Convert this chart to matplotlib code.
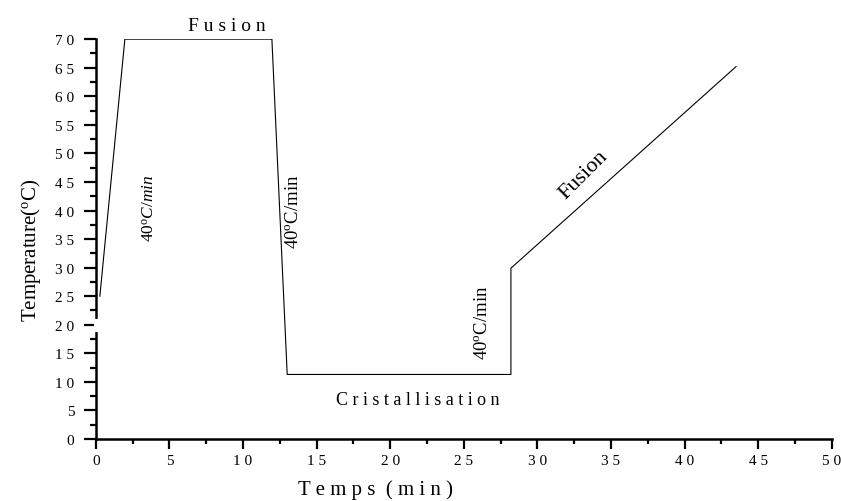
import matplotlib.pyplot as plt
from matplotlib.ticker import MultipleLocator, FuncFormatter

# heating / cooling program
temps_min = [0.27, 1.97, 11.96, 13.0, 28.2, 28.2, 43.5]
temperature = [25, 70, 70, 11.3, 11.3, 29.9, 65.2]

x_ticks = list(range(0, 51, 5))
y_ticks = list(range(0, 71, 5))

plt.rcParams["font.family"] = ["Liberation Serif", "DejaVu Serif"]
plt.rcParams["mathtext.fontset"] = "custom"
plt.rcParams["mathtext.rm"] = "Liberation Serif"
plt.rcParams["mathtext.it"] = "Liberation Serif:italic"


def spaced(v, pos):
    return " ".join(str(int(v)))


fig = plt.figure(figsize=(8.41, 5.02), dpi=100)
ax = fig.add_axes([0.114, 0.1235, 0.875, 0.7965])
ax.plot(temps_min, temperature, color="black", lw=0.8)

ax.set_xlim(0, 50)
ax.set_ylim(0, 70)
ax.set_xticks(x_ticks)
ax.set_yticks(y_ticks)
ax.xaxis.set_minor_locator(MultipleLocator(2.5))
ax.yaxis.set_minor_locator(MultipleLocator(2.5))
ax.xaxis.set_major_formatter(FuncFormatter(spaced))
ax.yaxis.set_major_formatter(FuncFormatter(spaced))
ax.tick_params(axis="x", which="major", direction="out", length=7, width=1.6,
               labelsize=11, pad=4)
ax.tick_params(axis="y", which="major", direction="out", length=8.5, width=1.6,
               labelsize=11, pad=7)
ax.tick_params(axis="x", which="minor", direction="out", length=3.6, width=1.6)
ax.tick_params(axis="y", which="minor", direction="out", length=4.3, width=1.6)
ax.spines["top"].set_visible(False)
ax.spines["right"].set_visible(False)
ax.spines["left"].set_linewidth(1.8)
ax.spines["bottom"].set_linewidth(1.8)

# small break in the y axis around 20
ax.plot([0, 0], [19.1, 20.6], color="white", lw=3, clip_on=False, zorder=5)

fig.text(376 / 841, 1 - 490 / 502, "T e m p s  ( m i n )", fontsize=15,
         ha="center", va="center")
fig.text(31 / 841, 1 - 250 / 502, r"Temperature($^{\mathrm{o}}$C)", fontsize=15,
         rotation=90, ha="center", va="center")

ax.text(8.9, 72.4, "F u s i o n", fontsize=14, ha="center", va="center", clip_on=False)
ax.text(21.9, 7.0, "C r i s t a l l i s a t i o n", fontsize=13, ha="center", va="center")
ax.text(33.15, 46.3, "Fusion", fontsize=16, rotation=45, ha="center", va="center",
        rotation_mode="anchor")

ax.text(3.67, 40.6, r"40$^{\mathrm{o}}$$\mathit{C/min}$", fontsize=12.5, rotation=90,
        ha="center", va="center")
ax.text(13.45, 40, r"40$^{\mathrm{o}}$C/min", fontsize=13.5, rotation=90,
        ha="center", va="center")
ax.text(26.3, 20.6, r"40$^{\mathrm{o}}$C/min", fontsize=13.5, rotation=90,
        ha="center", va="center")

fig.savefig("out.png", dpi=100)
